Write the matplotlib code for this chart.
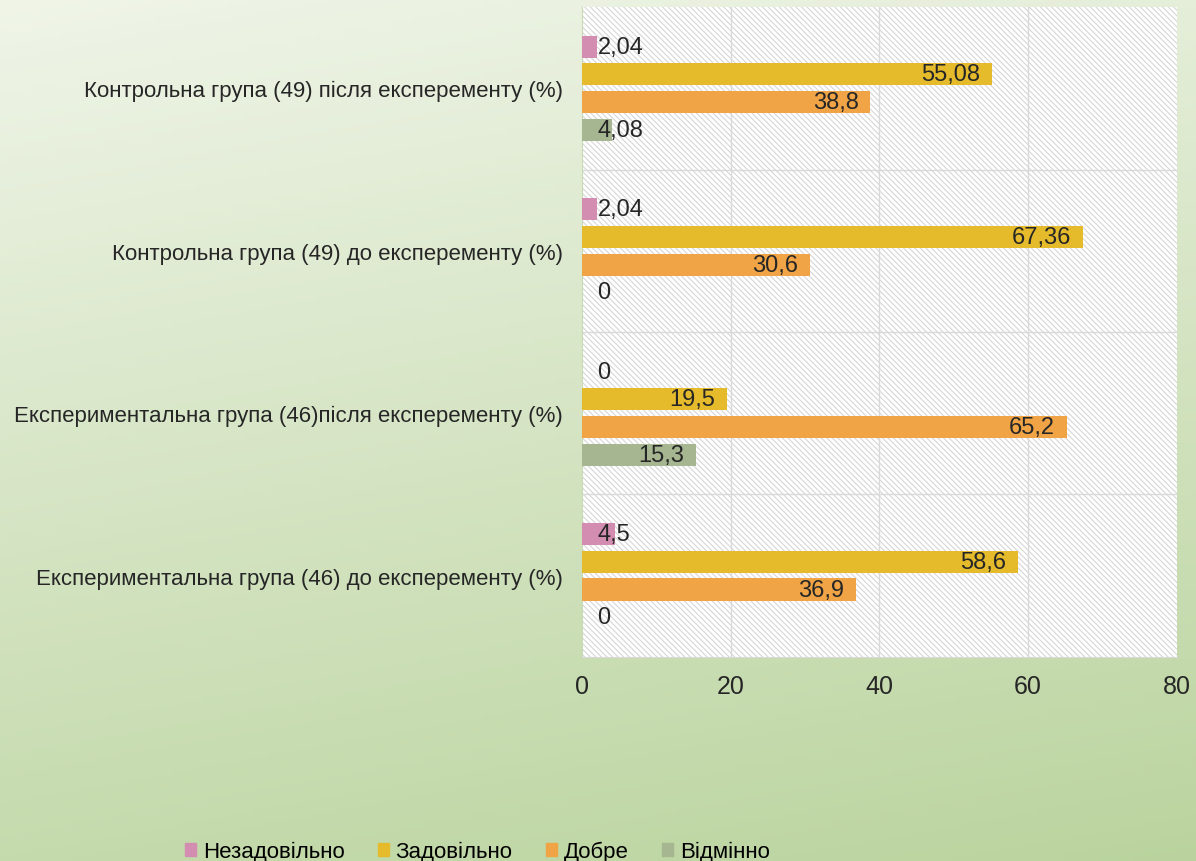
import matplotlib.pyplot as plt
import numpy as np
from matplotlib.patches import Rectangle
import matplotlib as mpl

categories = ["Експериментальна група (46) до експеременту (%)",
              "Експериментальна група (46)після експеременту (%)",
              "Контрольна група (49) до експеременту (%)",
              "Контрольна група (49) після експеременту (%)"]
series_names = ["Незадовільно", "Задовільно", "Добре", "Відмінно"]
nezad = [4.5, 0, 2.04, 2.04]
zad = [58.6, 19.5, 67.36, 55.08]
dobre = [36.9, 65.2, 30.6, 38.8]
vidm = [0, 15.3, 0, 4.08]
labels = {
    "Незадовільно": ["4,5", "0", "2,04", "2,04"],
    "Задовільно": ["58,6", "19,5", "67,36", "55,08"],
    "Добре": ["36,9", "65,2", "30,6", "38,8"],
    "Відмінно": ["0", "15,3", "0", "4,08"],
}
colors = ["#D38DB0", "#E5BB2B", "#F0A445", "#A5B690"]

mpl.rcParams['hatch.linewidth'] = 0.8
plt.rcParams['font.family'] = ['Liberation Sans', 'DejaVu Sans']

fig = plt.figure(figsize=(11.96, 8.62), dpi=100)

# background gradient
bg = fig.add_axes([0, 0, 1, 1])
xx, yy = np.meshgrid(np.linspace(0, 1, 200), np.linspace(0, 1, 200))
t = np.clip(0.8 * yy + 0.2 * xx, 0, 1)
c0 = np.array([0.94, 0.96, 0.91])
c1 = np.array([0.73, 0.83, 0.62])
img = c0[None, None, :] * (1 - t[..., None]) + c1[None, None, :] * t[..., None]
bg.imshow(img, aspect='auto', extent=[0, 1, 0, 1], origin='upper')
bg.axis('off')

ax = fig.add_axes([0.4866, 0.2367, 0.4974, 0.754])
ax.set_xlim(0, 80)
ax.set_ylim(-0.5, 3.5)
ax.add_patch(Rectangle((0, -0.5), 80, 4, facecolor='white', edgecolor='#d6d6d6',
                       linewidth=0, hatch='\\\\\\\\\\\\', zorder=0))

data = [nezad, zad, dobre, vidm]
h = 0.17
offsets = [1.5 * h, 0.5 * h, -0.5 * h, -1.5 * h]
y = np.arange(len(categories))
for i, name in enumerate(series_names):
    ys = y + offsets[i]
    ax.barh(ys, data[i], height=h * 0.8, color=colors[i], zorder=3)
    for yi, v, lab in zip(ys, data[i], labels[name]):
        if v < 10:
            ax.text(2.1, yi, lab, ha='left', va='center', fontsize=17, color='#262626', zorder=4)
        else:
            ax.text(v - 1.6, yi, lab, ha='right', va='center', fontsize=17, color='#262626', zorder=4)

for xg in [20, 40, 60]:
    ax.axvline(xg, color='#d9d9d9', lw=1, zorder=1)
for yg in [0.5, 1.5, 2.5]:
    ax.axhline(yg, color='#d9d9d9', lw=1, zorder=1)

ax.set_yticks(y)
ax.set_yticklabels(categories, fontsize=16, color='#262626')
ax.set_xticks([0, 20, 40, 60, 80])
ax.tick_params(axis='x', labelsize=18, colors='#262626', length=0, pad=12)
ax.tick_params(axis='y', length=0, pad=14)
for s in ['top', 'right']:
    ax.spines[s].set_visible(False)
ax.spines['left'].set_color('#c8dbb4')
ax.spines['bottom'].set_color('#d9d9d9')

handles = [Rectangle((0, 0), 1, 1, color=c) for c in colors]
fig.legend(handles, series_names, loc='center', bbox_to_anchor=(0.399, 0.011),
           ncol=4, frameon=False, fontsize=16, handlelength=0.5, handleheight=0.5,
           columnspacing=1.5, handletextpad=0.3)

fig.savefig('out.png', dpi=100)
